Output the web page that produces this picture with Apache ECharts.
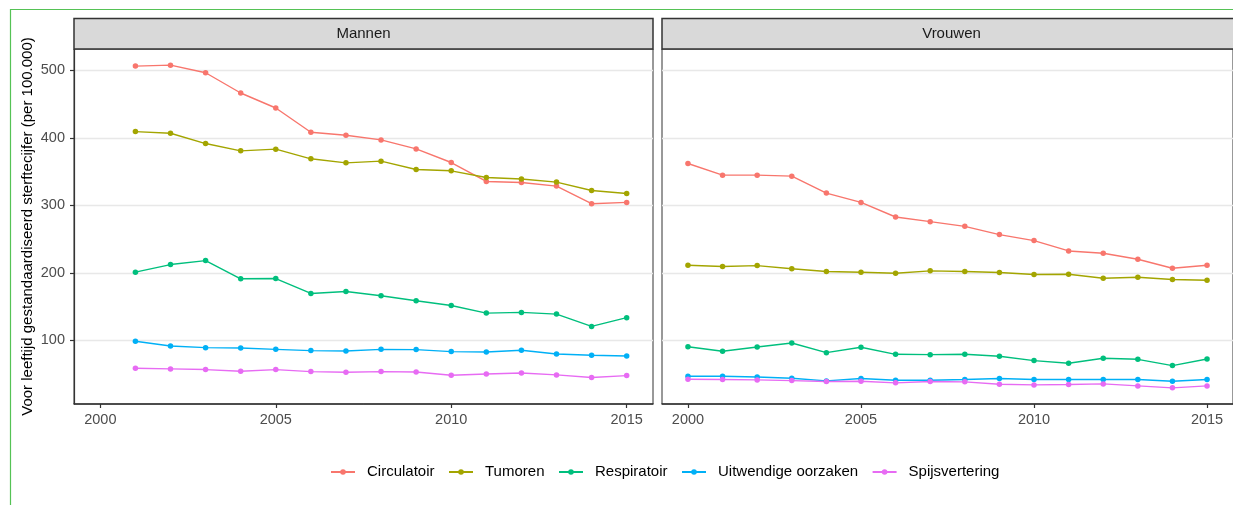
<!DOCTYPE html>
<html>
<head>
<meta charset="utf-8">
<script src="https://cdn.jsdelivr.net/npm/echarts@6/dist/echarts.min.js"></script>
<style>
  html, body { margin: 0; padding: 0; background: #ffffff; }
  #chart { width: 1233px; height: 505px; }
</style>
</head>
<body>
<div id="chart"></div>
<script>
// Age-standardised mortality per 100,000, by cause of death, men and women
const causes = ['Circulatoir', 'Tumoren', 'Respiratoir', 'Uitwendige oorzaken', 'Spijsvertering'];
const causeColors = ['#F8766D', '#A3A500', '#00BF7D', '#00B0F6', '#E76BF3'];

const panels = ['Mannen', 'Vrouwen'];

const yearsMannen = [2001, 2002, 2003, 2004, 2005, 2006, 2007, 2008, 2009, 2010, 2011, 2012, 2013, 2014, 2015];
const yearsVrouwen = [2000, 2001, 2002, 2003, 2004, 2005, 2006, 2007, 2008, 2009, 2010, 2011, 2012, 2013, 2014, 2015];

const mannenCirculatoir    = [506.4, 507.8, 496.5, 466.5, 444.3, 408.4, 404.0, 397.0, 383.7, 363.5, 335.4, 334.0, 328.6, 302.5, 304.4];
const mannenTumoren        = [409.3, 406.9, 391.6, 380.8, 383.3, 369.0, 363.0, 365.5, 353.1, 351.2, 341.3, 339.0, 334.5, 322.1, 317.7];
const mannenRespiratoir    = [201.0, 212.3, 218.2, 191.2, 191.6, 169.5, 172.4, 166.1, 158.7, 151.7, 140.4, 141.4, 138.9, 120.7, 133.6];
const mannenUitwendig      = [98.6, 91.6, 89.2, 88.7, 86.7, 84.8, 84.2, 86.7, 86.3, 83.3, 82.7, 85.3, 79.8, 77.9, 76.9];
const mannenSpijsvertering = [58.7, 57.7, 56.7, 54.2, 56.7, 53.7, 52.7, 53.7, 53.2, 48.3, 50.2, 51.7, 48.8, 44.9, 47.8];

const vrouwenCirculatoir    = [362.0, 344.8, 344.8, 343.3, 318.2, 304.4, 282.8, 275.9, 268.9, 256.7, 247.8, 232.5, 229.0, 220.2, 206.9, 211.3];
const vrouwenTumoren        = [211.3, 209.4, 210.8, 206.0, 202.0, 201.0, 199.5, 203.0, 202.0, 200.5, 197.5, 198.0, 192.1, 193.6, 190.2, 189.1];
const vrouwenRespiratoir    = [90.6, 83.8, 90.2, 96.1, 81.8, 89.7, 79.3, 78.8, 79.3, 76.4, 70.0, 66.0, 73.4, 71.9, 62.6, 72.4];
const vrouwenUitwendig      = [46.8, 46.8, 45.8, 43.9, 39.9, 43.4, 40.9, 40.9, 41.9, 43.4, 41.9, 41.9, 41.9, 41.9, 39.5, 41.9];
const vrouwenSpijsvertering = [42.4, 41.9, 41.4, 40.4, 39.0, 39.5, 37.0, 39.0, 38.5, 35.0, 34.0, 34.5, 35.5, 32.5, 29.6, 32.5];

const xTicks = [2000, 2005, 2010, 2015];
const yTicks = [100, 200, 300, 400, 500];

const yTitle = 'Voor leeftijd gestandaardiseerd sterftecijfer (per 100.000)';

const panelSeries = [
  { years: yearsMannen,  values: [mannenCirculatoir, mannenTumoren, mannenRespiratoir, mannenUitwendig, mannenSpijsvertering] },
  { years: yearsVrouwen, values: [vrouwenCirculatoir, vrouwenTumoren, vrouwenRespiratoir, vrouwenUitwendig, vrouwenSpijsvertering] }
];

// shared scales with a 5% margin on both sides
const allValues = panelSeries.flatMap(p => p.values.flat());
const yLo = Math.min(...allValues), yHi = Math.max(...allValues);
const yPad = (yHi - yLo) * 0.05;
const xLo = 2000, xHi = 2015, xPad = (xHi - xLo) * 0.05;

const FONT = '"Liberation Sans", Arial, Helvetica, sans-serif';
const DARK = '#333333';

const grids = [
  { left: 74, top: 49, width: 579, height: 355 },
  { left: 662, top: 49, width: 579, height: 355 }
];

const xAxes = grids.map((g, i) => ({
  type: 'value', gridIndex: i, min: xLo - xPad, max: xHi + xPad,
  axisLine: { show: true, onZero: false, lineStyle: { color: DARK, width: 1.5 } },
  axisTick: { show: true, length: 4, customValues: xTicks, lineStyle: { color: DARK, width: 1.2 } },
  axisLabel: { customValues: xTicks, formatter: v => String(v), color: '#4D4D4D', fontSize: 14.5, fontFamily: FONT, margin: 8 },
  splitLine: { show: false }
}));

const yAxes = grids.map((g, i) => ({
  type: 'value', gridIndex: i, min: yLo - yPad, max: yHi + yPad,
  name: i === 0 ? yTitle : '', nameLocation: 'middle', nameRotate: 90, nameGap: 39,
  nameTextStyle: { color: '#000000', fontSize: 15, fontFamily: FONT },
  axisLine: { show: i === 0, lineStyle: { color: DARK, width: 1.2 } },
  axisTick: { show: i === 0, length: 4, customValues: yTicks, lineStyle: { color: DARK, width: 1.2 } },
  axisLabel: { show: i === 0, customValues: yTicks, color: '#4D4D4D', fontSize: 14.5, fontFamily: FONT, margin: 9 },
  splitLine: { show: true, lineStyle: { color: '#E8E8E8', width: 1.4 } }
}));

const series = [];
panelSeries.forEach((p, pi) => {
  causes.forEach((c, ci) => {
    series.push({
      name: c, type: 'line', xAxisIndex: pi, yAxisIndex: pi,
      data: p.years.map((yr, k) => [yr, p.values[ci][k]]),
      symbol: 'circle', symbolSize: 5.5, showSymbol: true,
      lineStyle: { color: causeColors[ci], width: 1.4 },
      itemStyle: { color: causeColors[ci] },
      emphasis: { disabled: true }
    });
  });
});

// facet strips and outer frame
const graphic = [
  { type: 'rect', z: 100, silent: true, shape: { x: 10.5, y: 9.5, width: 1400, height: 700 },
    style: { fill: 'none', stroke: '#55C255', lineWidth: 1.2 } }
];
grids.forEach((g, i) => {
  graphic.push({ type: 'rect', z: 100, silent: true,
    shape: { x: g.left, y: 18.5, width: g.width, height: g.top - 18.5 },
    style: { fill: '#D9D9D9', stroke: DARK, lineWidth: 1.5 } });
  graphic.push({ type: 'text', z: 101, silent: true,
    x: g.left + g.width / 2, y: (18.5 + g.top) / 2,
    style: { text: panels[i], fill: '#1A1A1A', font: '15px ' + FONT, align: 'center', verticalAlign: 'middle' } });
});

const chart = echarts.init(document.getElementById('chart'), null, { renderer: 'canvas' });
chart.setOption({
  animation: false,
  backgroundColor: '#ffffff',
  grid: grids.map(g => Object.assign({ show: true, borderColor: DARK, borderWidth: 1, backgroundColor: '#ffffff' }, g)),
  xAxis: xAxes,
  yAxis: yAxes,
  legend: {
    data: causes, left: 325, top: 459.5, orient: 'horizontal',
    itemWidth: 24, itemHeight: 7, itemGap: 13.5, selectedMode: false,
    textStyle: { color: '#000000', fontSize: 15, fontFamily: FONT, padding: [0, 0, 0, 7] }
  },
  series: series,
  graphic: graphic
});
</script>
</body>
</html>
